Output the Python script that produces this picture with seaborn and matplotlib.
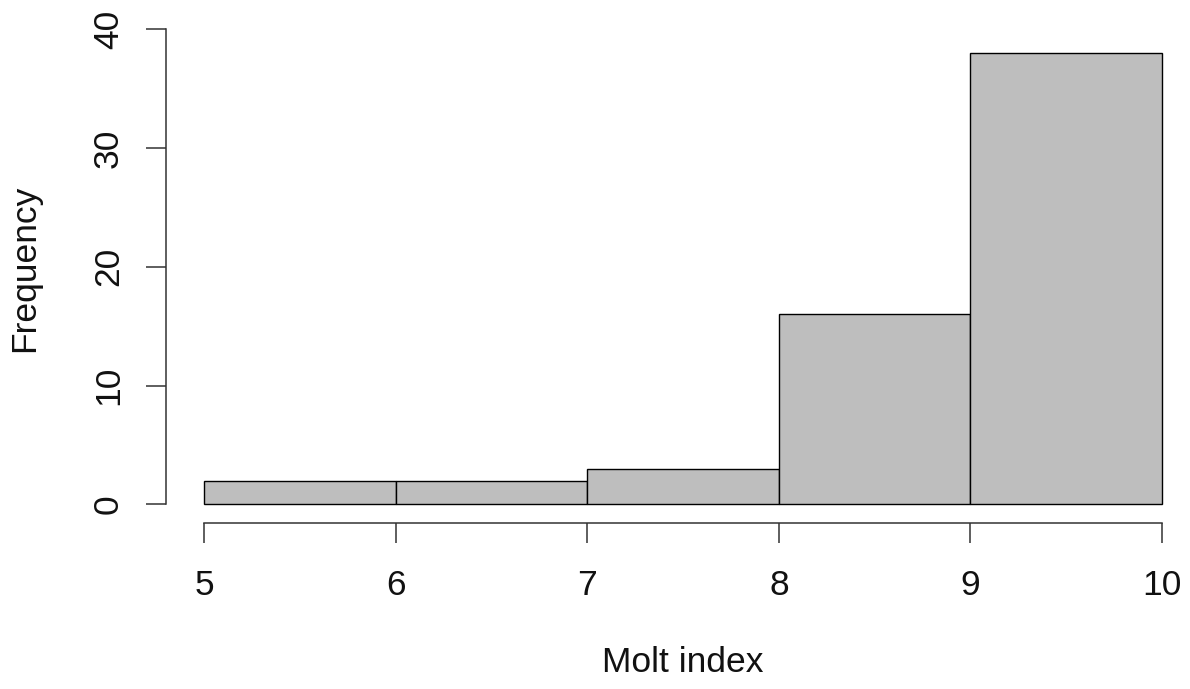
import matplotlib
matplotlib.use("Agg")
import matplotlib.pyplot as plt
import seaborn as sns
import numpy as np

# Data
bin_edges = [5, 6, 7, 8, 9, 10]
bin_left = [5, 6, 7, 8, 9]
counts = [2, 2, 3, 16, 38]
x_ticks = [5, 6, 7, 8, 9, 10]
y_ticks = [0, 10, 20, 30, 40]
x_label = "Molt index"
y_label = "Frequency"

sns.set_style("white")
plt.rcParams['font.family'] = ['Liberation Sans', 'DejaVu Sans']

W, H = 1190, 689
fig = plt.figure(figsize=(W / 100, H / 100), dpi=100)

# plot region in pixels (top extended so the 40 tick is inside the view)
ypx_per_unit = 11.881
ymin = -1.52
ymax = 40.0
bottom_px = 522.5
top_px = bottom_px - (ymax - ymin) * ypx_per_unit
left_px, right_px = 165.7, 1190
ax = fig.add_axes([left_px / W, 1 - bottom_px / H,
                   (right_px - left_px) / W, (bottom_px - top_px) / H])

sns.histplot(x=bin_left, weights=counts, bins=bin_edges, ax=ax,
             color="#BEBEBE", edgecolor="black", linewidth=1.0, alpha=1.0)

ax.set_xticks(x_ticks)
ax.set_yticks(y_ticks)
ax.set_xticklabels([str(v) for v in x_ticks])
ax.set_yticklabels([str(v) for v in y_ticks])

px_per_unit = (1162 - 204) / 5
ax.set_xlim(4.8, 4.8 + (right_px - left_px) / px_per_unit)
ax.set_ylim(ymin, ymax)

for s in ["top", "right"]:
    ax.spines[s].set_visible(False)
ax.spines["left"].set_bounds(0, 40)
ax.spines["bottom"].set_bounds(5, 10)
for s in ["left", "bottom"]:
    ax.spines[s].set_color("#333333")
    ax.spines[s].set_linewidth(1.1)

ax.tick_params(axis="both", direction="out", length=14.4, width=1.1,
               color="#333333", labelsize=25.5, labelcolor="#111111",
               left=True, bottom=True)
ax.tick_params(axis="x", pad=19)
ax.tick_params(axis="y", pad=15)
for lab in ax.get_yticklabels():
    lab.set_rotation(90)
    lab.set_va("center")

ax.set_xlabel(x_label, fontsize=25.5, color="#111111", va="center")
ax.xaxis.set_label_coords(683 / W, 1 - 663 / H, transform=fig.transFigure)
ax.set_ylabel(y_label, fontsize=25.5, color="#111111", va="center")
ax.yaxis.set_label_coords(25 / W, 1 - 268 / H, transform=fig.transFigure)

ax.grid(False)
fig.savefig("out.png", dpi=100)
